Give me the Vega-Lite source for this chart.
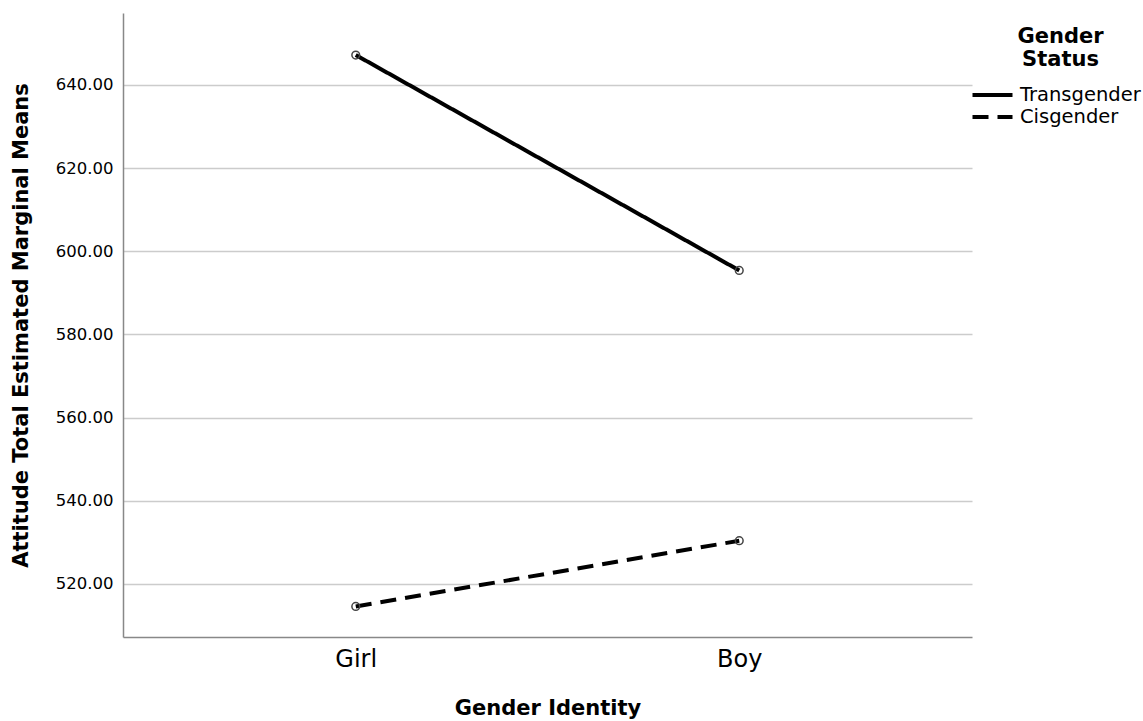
{
  "$schema": "https://vega.github.io/schema/vega-lite/v6.json",
  "width": 849,
  "height": 624,
  "autosize": "none",
  "padding": {"left": 123, "top": 13, "right": 171, "bottom": 84},
  "background": "white",
  "config": {
    "font": "DejaVu Sans",
    "view": {"stroke": null}
  },
  "data": {
    "values": [
      {"identity": "Girl", "status": "Transgender", "mean": 647.2},
      {"identity": "Boy", "status": "Transgender", "mean": 595.4},
      {"identity": "Girl", "status": "Cisgender", "mean": 514.6},
      {"identity": "Boy", "status": "Cisgender", "mean": 530.4}
    ]
  },
  "encoding": {
    "x": {
      "field": "identity",
      "type": "nominal",
      "sort": ["Girl", "Boy"],
      "scale": {"type": "point", "padding": 0.607},
      "axis": {
        "title": "Gender Identity",
        "titleFontSize": 21,
        "titleFontWeight": "bold",
        "titleColor": "black",
        "titlePadding": 26,
        "labelFontSize": 24,
        "labelColor": "black",
        "labelAngle": 0,
        "labelPadding": 10,
        "ticks": false,
        "domainColor": "#888",
        "domainWidth": 1.5,
        "grid": false
      }
    },
    "y": {
      "field": "mean",
      "type": "quantitative",
      "scale": {"domain": [507.25, 657.3], "nice": false, "zero": false},
      "axis": {
        "title": "Attitude Total Estimated Marginal Means",
        "titleFontSize": 21,
        "titleFontWeight": "bold",
        "titleColor": "black",
        "titlePadding": 24,
        "values": [520, 540, 560, 580, 600, 620, 640],
        "format": ".2f",
        "labelFontSize": 16.5,
        "labelColor": "black",
        "labelPadding": 10,
        "ticks": false,
        "domainColor": "#888",
        "domainWidth": 1.5,
        "grid": true,
        "gridColor": "#cccccc",
        "gridWidth": 1.5
      }
    }
  },
  "layer": [
    {
      "mark": {"type": "line", "color": "black", "strokeWidth": 4},
      "encoding": {
        "strokeDash": {
          "field": "status",
          "type": "nominal",
          "scale": {"domain": ["Transgender", "Cisgender"], "range": [[1, 0], [16, 9]]},
          "legend": {
            "title": ["Gender", "Status"],
            "orient": "none",
            "legendX": 857.5,
            "legendY": 13,
            "titleFontSize": 21,
            "titleFontWeight": "bold",
            "titleColor": "black",
            "titleAnchor": "middle",
            "titleAlign": "center",
            "titleLineHeight": 23,
            "titlePadding": 13,
            "labelFontSize": 19.5,
            "labelColor": "black",
            "labelOffset": 15.5,
            "symbolType": "M-2,0H2",
            "symbolSize": 400,
            "symbolStrokeWidth": 4,
            "symbolStrokeColor": "black",
            "symbolDash": [15, 10],
            "rowPadding": 0
          }
        }
      }
    },
    {
      "mark": {"type": "point", "filled": false, "stroke": "#444", "strokeWidth": 1.5, "size": 60, "opacity": 1},
      "encoding": {
        "detail": {"field": "status", "type": "nominal"}
      }
    }
  ]
}
